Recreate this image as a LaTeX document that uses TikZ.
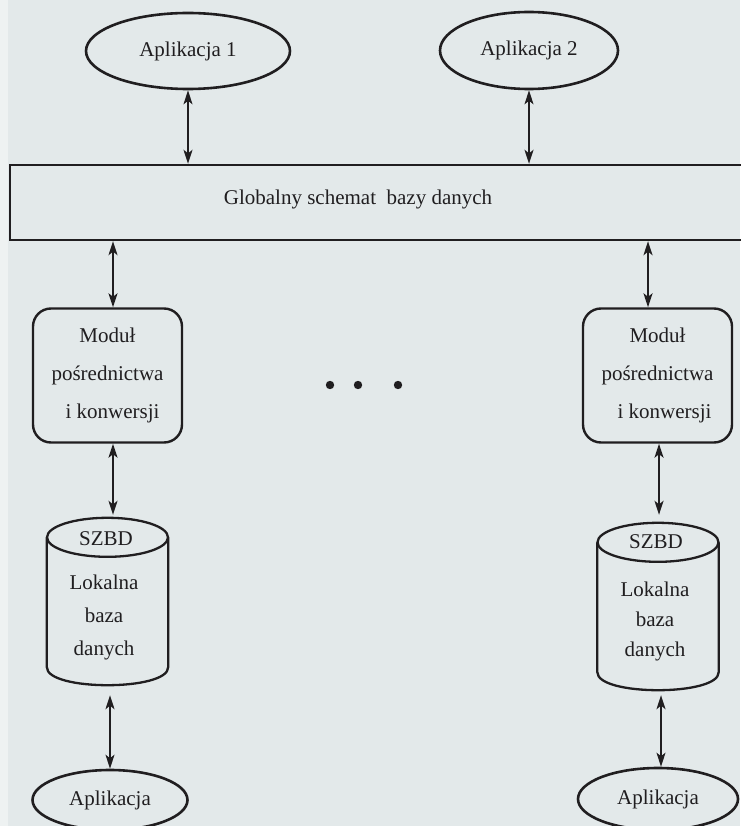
\documentclass[tikz,border=0pt]{standalone}
\usepackage{fontspec}
\setmainfont{Liberation Serif}
\usetikzlibrary{arrows.meta,calc,shapes.geometric}
\definecolor{paper}{RGB}{227,233,234}
\definecolor{paperedge}{RGB}{238,242,242}
\definecolor{ink}{RGB}{32,30,32}

\begin{document}
\begin{tikzpicture}[x=1pt,y=-1pt,
  every node/.style={text=ink,font=\fontsize{21}{38}\selectfont},
  appl/.style={draw=ink,line width=2.6pt,ellipse,inner sep=0pt},
  module/.style={draw=ink,line width=2.4pt,rounded corners=18pt,
    minimum width=149pt,minimum height=134pt,align=center,inner sep=0pt},
  dbbody/.style={minimum width=121pt,minimum height=167pt,inner sep=0pt},
  dbtext/.style={align=center,font=\fontsize{21}{33}\selectfont},
  link/.style={draw=ink,line width=1.8pt,{Stealth[length=14pt,width=9pt,inset=3.5pt]}-{Stealth[length=14pt,width=9pt,inset=3.5pt]}},
  outline/.style={draw=ink,line width=2.3pt},
]
% paper
\fill[paper] (0,0) rectangle (740,826);
\fill[paperedge] (0,0) rectangle (8,826);
\useasboundingbox (0,0) rectangle (740,826);

% global applications
\node[appl,minimum width=204pt,minimum height=76pt] (app1) at (188,51) {Aplikacja 1};
\node[appl,minimum width=178pt,minimum height=77pt] (app2) at (529,50.5) {Aplikacja 2};

% global schema band
\node[draw=ink,line width=2.4pt,minimum width=750pt,minimum height=75pt,inner sep=0pt] (gs) at (385,202.5) {};
\node (gstext) at (358,199) {Globalny schemat\ \ bazy danych};

% mediation / conversion modules
\node[module] (mod1) at (107.5,375.5) {Moduł\\pośrednictwa\\\hspace*{10pt}i konwersji};
\node[module] (mod2) at (657.5,375.5) {Moduł\\pośrednictwa\\\hspace*{14pt}i konwersji};

% ellipsis between the sites
\fill[ink] (330,385) circle (4.2pt);
\fill[ink] (358,385) circle (4.2pt);
\fill[ink] (398,385) circle (4.2pt);

% local DBMS cylinders
\node[dbbody] (db1) at (107.5,601.5) {};
\node[dbbody] (db2) at (658,606.5) {};
\foreach \d in {db1,db2}{
  \draw[outline] ($(\d.north)+(0,19.5)$) ellipse [x radius=60.5pt,y radius=19.5pt];
  \draw[outline] ($(\d.north west)+(0,19.5)$) -- ($(\d.south west)+(0,-18)$)
    .. controls ($(\d.south west)+(0,6)$) and ($(\d.south east)+(0,6)$) ..
    ($(\d.south east)+(0,-18)$) -- ($(\d.north east)+(0,19.5)$);
}
\node (db1a) at (106,539) {SZBD};
\node[dbtext] (db1b) at (104,617) {Lokalna\\baza\\danych};
\node (db2a) at (656,542) {SZBD};
\node[dbtext,font=\fontsize{21}{30}\selectfont] (db2b) at (655,621) {Lokalna\\baza\\danych};

% local applications
\node[appl,minimum width=155pt,minimum height=60pt] (appL) at (110,800) {Aplikacja};
\node[appl,minimum width=160pt,minimum height=62pt] (appR) at (658,799) {Aplikacja};

% connectors
\draw[link] (app1.south) -- (app1.south |- gs.north);
\draw[link] (app2.south) -- (app2.south |- gs.north);
\draw[link] ([xshift=5.5pt]mod1.north |- gs.south) -- ([xshift=5.5pt]mod1.north);
\draw[link] ([xshift=-9.5pt]mod2.north |- gs.south) -- ([xshift=-9.5pt]mod2.north);
\draw[link,shorten >=3pt] ([xshift=5.5pt]mod1.south) -- ([xshift=5.5pt]mod1.south |- db1.north);
\draw[link,shorten >=8pt] ([xshift=1.5pt]mod2.south) -- ([xshift=1.5pt]mod2.south |- db2.north);
\draw[link,shorten <=10pt] (appL.north |- db1.south) -- (appL.north);
\draw[link,shorten <=5pt] ([xshift=3pt]appR.north |- db2.south) -- ([xshift=3pt]appR.north);
\end{tikzpicture}
\end{document}
